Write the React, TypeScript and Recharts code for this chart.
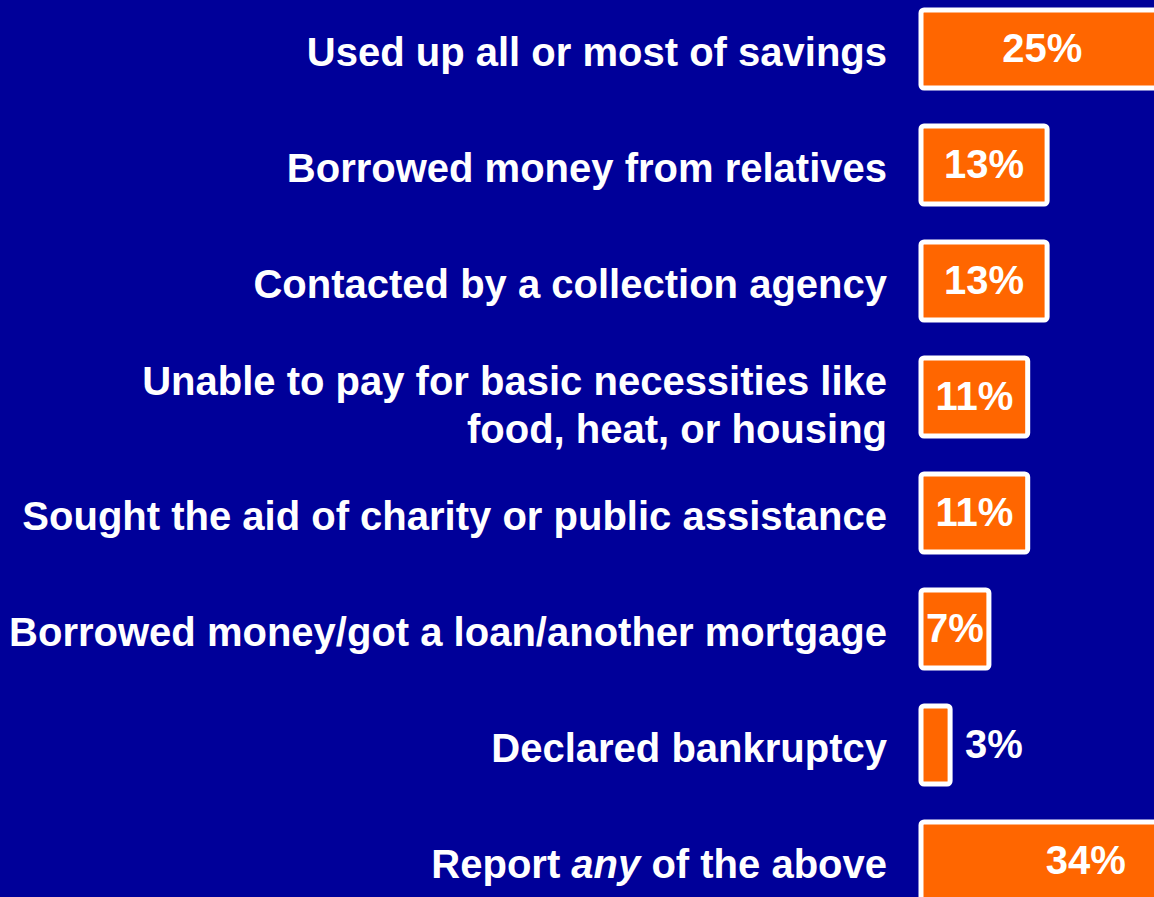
import React from 'react';
import { BarChart, Bar, XAxis, YAxis, LabelList } from 'recharts';

const CATEGORIES = [
  'Used up all or most of savings',
  'Borrowed money from relatives',
  'Contacted by a collection agency',
  'Unable to pay for basic necessities like\nfood, heat, or housing',
  'Sought the aid of charity or public assistance',
  'Borrowed money/got a loan/another mortgage',
  'Declared bankruptcy',
  'Report any of the above',
];
const VALUES = [25, 13, 13, 11, 11, 7, 3, 34];
const ITALIC_WORDS = ['any'];

const BG = '#000099';
const ORANGE = '#FF6600';
const FONT = '"Liberation Sans", Arial, sans-serif';

const data = CATEGORIES.map((name, i) => ({ name, value: VALUES[i] }));

const CategoryTick = (props: any) => {
  const { x, y, payload } = props;
  const lines: string[] = String(payload.value).split('\n');
  const startDy = lines.length > 1 ? -2 : 17;
  return (
    <text
      x={x}
      y={y}
      textAnchor="end"
      fill="#ffffff"
      fontFamily={FONT}
      fontWeight="bold"
      fontSize={40}
    >
      {lines.map((line, li) => (
        <tspan key={li} x={x} dy={li === 0 ? startDy : 48}>
          {line.split(' ').map((w, wi, arr) => (
            <tspan key={wi} fontStyle={ITALIC_WORDS.includes(w) ? 'italic' : 'normal'}>
              {w + (wi < arr.length - 1 ? ' ' : '')}
            </tspan>
          ))}
        </tspan>
      ))}
    </text>
  );
};

const ValueLabel = (props: any) => {
  const { x, y, width, height, value } = props;
  const inside = value >= 5;
  return (
    <text
      x={inside ? x + width / 2 : x + width + 15}
      y={y + height / 2 + 13}
      textAnchor={inside ? 'middle' : 'start'}
      fill="#ffffff"
      fontFamily={FONT}
      fontWeight="bold"
      fontSize={40}
    >
      {value}%
    </text>
  );
};

export default function App() {
  return (
    <div
      style={{
        position: 'fixed',
        top: 0,
        left: 0,
        width: 1154,
        height: 897,
        overflow: 'hidden',
        background: BG,
      }}
    >
      <div style={{ position: 'absolute', top: -9, left: 0 }}>
        <BarChart
          width={1309}
          height={928}
          data={data}
          layout="vertical"
          margin={{ top: 0, right: 0, bottom: 0, left: 0 }}
        >
          <XAxis type="number" domain={[0, 40]} hide />
          <YAxis
            type="category"
            dataKey="name"
            width={921}
            axisLine={false}
            tickLine={false}
            tickSize={0}
            tickMargin={34}
            interval={0}
            tick={<CategoryTick />}
          />
          <Bar
            dataKey="value"
            fill={ORANGE}
            stroke="#ffffff"
            strokeWidth={5}
            radius={3}
            barSize={78}
            isAnimationActive={false}
          >
            <LabelList dataKey="value" content={<ValueLabel />} />
          </Bar>
        </BarChart>
      </div>
    </div>
  );
}
